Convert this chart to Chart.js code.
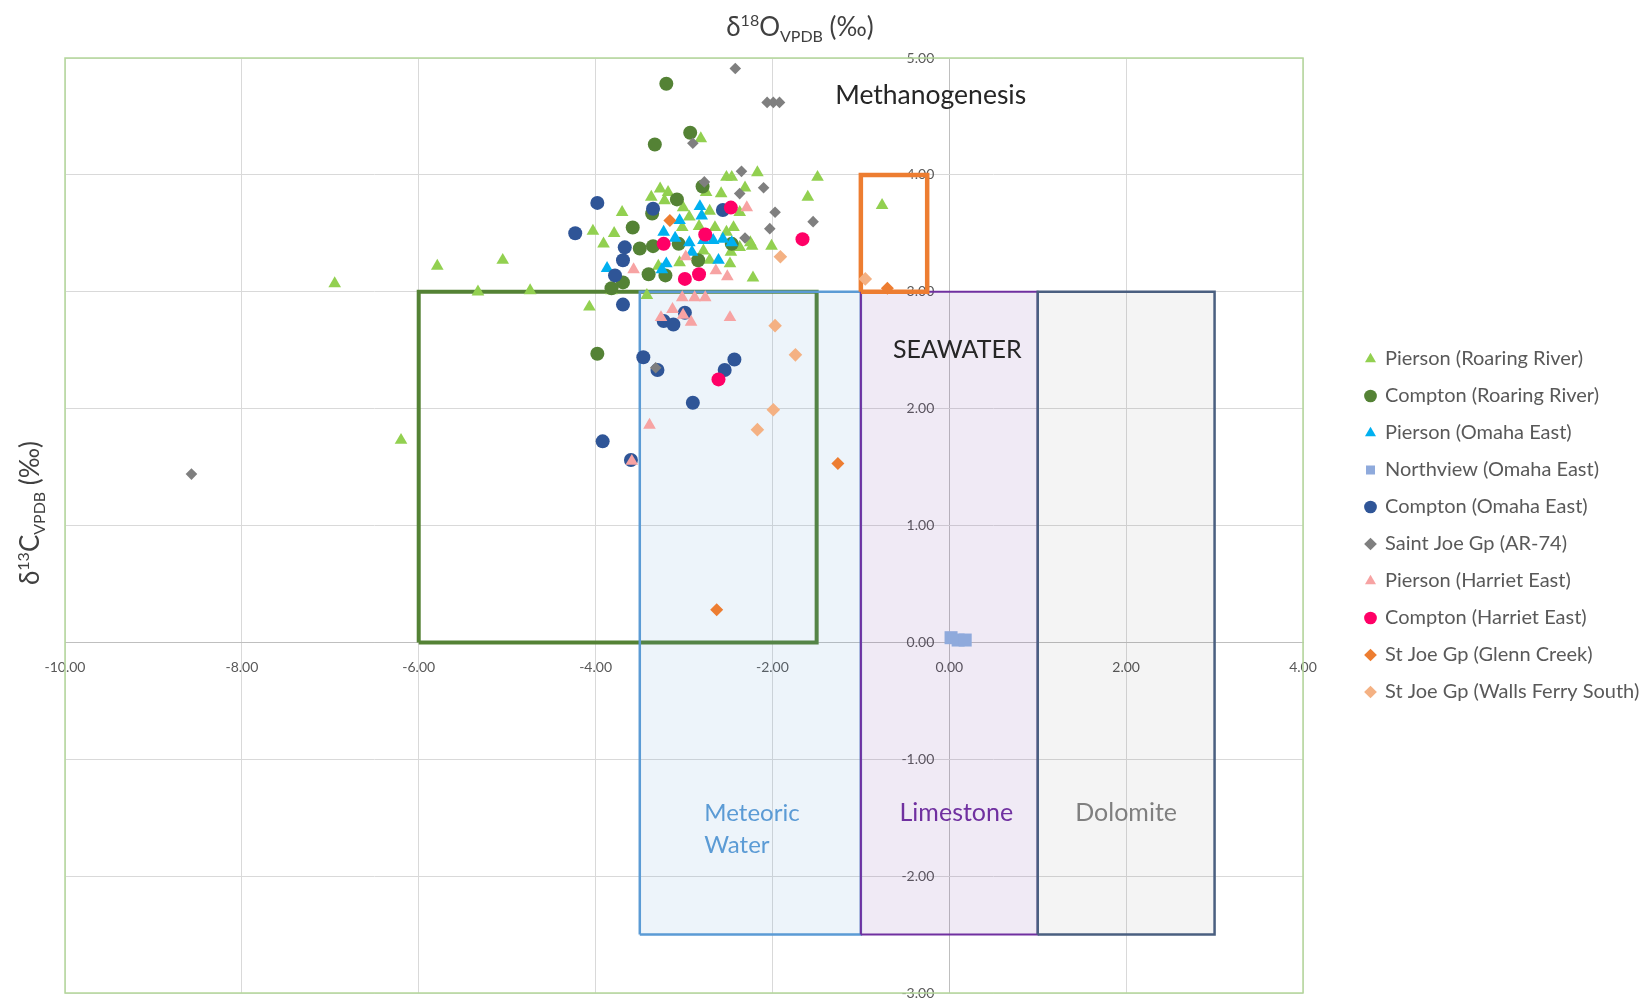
<!DOCTYPE html>
<html>
<head>
<meta charset="utf-8">
<title>Stable isotope cross-plot</title>
<script src="https://cdn.jsdelivr.net/npm/chart.js@4.4.1/dist/chart.umd.min.js"></script>
<style>
  html, body { margin: 0; padding: 0; background: #ffffff; }
  #wrap { width: 1641px; height: 1000px; }
</style>
</head>
<body>
<div id="wrap"><canvas id="chart" width="1641" height="1000"></canvas></div>
<script>
// ---- Sample data: [δ18O VPDB, δ13C VPDB] in ‰ ----
const piersonRoaringRiver = [
  [-2.81, 4.31], [-2.52, 3.98], [-2.46, 3.98], [-2.17, 4.02], [-1.49, 3.98], [-1.60, 3.81],
  [-2.31, 3.89], [-2.58, 3.84], [-2.75, 3.85], [-3.37, 3.81], [-3.27, 3.88], [-3.18, 3.85],
  [-3.22, 3.78], [-3.70, 3.68], [-4.03, 3.52], [-3.79, 3.50], [-3.91, 3.41], [-3.01, 3.72],
  [-2.94, 3.64], [-2.71, 3.69], [-2.37, 3.68], [-3.02, 3.55], [-2.83, 3.56], [-2.65, 3.55],
  [-2.44, 3.55], [-2.52, 3.51], [-2.25, 3.42], [-2.01, 3.39], [-2.78, 3.35], [-2.47, 3.34],
  [-2.37, 3.38], [-2.23, 3.39], [-2.48, 3.24], [-2.71, 3.27], [-3.05, 3.25], [-3.29, 3.22],
  [-2.22, 3.12], [-3.42, 2.97], [-4.07, 2.87], [-3.82, 3.01], [-0.76, 3.74], [-6.95, 3.07],
  [-5.79, 3.22], [-5.05, 3.27], [-5.33, 3.00], [-4.74, 3.01], [-6.20, 1.73]
];
const comptonRoaringRiver = [
  [-3.20, 4.78], [-2.93, 4.36], [-3.33, 4.26], [-2.79, 3.90], [-3.08, 3.79], [-3.36, 3.67],
  [-3.58, 3.55], [-3.50, 3.37], [-3.35, 3.39], [-3.06, 3.41], [-2.84, 3.27], [-3.40, 3.15],
  [-3.21, 3.14], [-3.69, 3.08], [-3.82, 3.03], [-2.46, 3.41], [-3.98, 2.47]
];
const piersonOmahaEast = [
  [-2.82, 3.73], [-2.80, 3.65], [-3.05, 3.61], [-3.23, 3.51], [-3.10, 3.46], [-2.94, 3.42],
  [-2.78, 3.44], [-2.67, 3.44], [-2.56, 3.45], [-2.46, 3.42], [-2.91, 3.34], [-2.61, 3.27],
  [-3.20, 3.24], [-3.25, 3.19], [-3.87, 3.20]
];
const northviewOmahaEast = [
  [0.02, 0.04], [0.10, 0.02], [0.18, 0.02]
];
const comptonOmahaEast = [
  [-3.98, 3.76], [-4.23, 3.50], [-3.35, 3.71], [-2.56, 3.70], [-3.67, 3.38], [-3.69, 3.27],
  [-3.78, 3.14], [-3.69, 2.89], [-3.23, 2.75], [-3.12, 2.72], [-2.99, 2.82], [-3.46, 2.44],
  [-3.30, 2.33], [-2.54, 2.33], [-2.43, 2.42], [-2.90, 2.05], [-3.92, 1.72], [-3.60, 1.56]
];
const saintJoeAR74 = [
  [-2.42, 4.91], [-2.06, 4.62], [-1.99, 4.62], [-1.92, 4.62], [-2.90, 4.27], [-2.35, 4.03],
  [-2.77, 3.94], [-2.10, 3.89], [-2.37, 3.84], [-1.97, 3.68], [-2.03, 3.54], [-1.54, 3.60],
  [-2.31, 3.46], [-3.32, 2.35], [-8.57, 1.44]
];
const piersonHarrietEast = [
  [-2.29, 3.72], [-2.98, 3.30], [-3.57, 3.19], [-2.64, 3.18], [-2.51, 3.13], [-3.02, 2.95],
  [-2.88, 2.95], [-2.76, 2.95], [-3.13, 2.85], [-3.01, 2.80], [-3.26, 2.78], [-2.92, 2.74],
  [-2.48, 2.78], [-3.39, 1.86], [-3.59, 1.55]
];
const comptonHarrietEast = [
  [-2.47, 3.72], [-2.76, 3.49], [-3.23, 3.41], [-1.66, 3.45], [-2.83, 3.15], [-2.99, 3.11],
  [-2.61, 2.25]
];
const stJoeGlennCreek = [
  [-3.16, 3.61], [-1.26, 1.53], [-2.63, 0.28], [-0.70, 3.03]
];
const stJoeWallsFerrySouth = [
  [-1.91, 3.30], [-1.97, 2.71], [-1.74, 2.46], [-1.99, 1.99], [-2.17, 1.82], [-0.95, 3.11]
];

const seriesNames = [
  'Pierson (Roaring River)', 'Compton (Roaring River)', 'Pierson (Omaha East)',
  'Northview (Omaha East)', 'Compton (Omaha East)', 'Saint Joe Gp (AR-74)',
  'Pierson (Harriet East)', 'Compton (Harriet East)', 'St Joe Gp (Glenn Creek)',
  'St Joe Gp (Walls Ferry South)'
];
const seriesData = [
  piersonRoaringRiver, comptonRoaringRiver, piersonOmahaEast, northviewOmahaEast,
  comptonOmahaEast, saintJoeAR74, piersonHarrietEast, comptonHarrietEast,
  stJoeGlennCreek, stJoeWallsFerrySouth
];

// ---- Axis ticks ----
const xTicks = [-10, -8, -6, -4, -2, 0, 2, 4];
const yTicks = [-3, -2, -1, 0, 1, 2, 3, 4, 5];

// ---- Reference fields: [δ18O min, δ18O max, δ13C min, δ13C max] ----
const outlineField = [-6, -1.5, 0, 3];
const meteoricField = [-3.5, -1, -2.5, 3];
const limestoneField = [-1, 1, -2.5, 3];
const dolomiteField = [1, 3, -2.5, 3];
const methanogenesisField = [-1, -0.25, 3, 4];

// ---- Marker styles ----
const markerStyles = [
  { color: '#92d050', shape: 'triangle', r: 7.3 },
  { color: '#548235', shape: 'circle', r: 7 },
  { color: '#00b0f0', shape: 'triangle', r: 7.3 },
  { color: '#8faadc', shape: 'rect', r: 9.2 },
  { color: '#2f5597', shape: 'circle', r: 7 },
  { color: '#7f7f7f', shape: 'rectRot', r: 5.8 },
  { color: '#f7a3a3', shape: 'triangle', r: 7.3 },
  { color: '#ff0066', shape: 'circle', r: 7 },
  { color: '#ed7d31', shape: 'rectRot', r: 6.5 },
  { color: '#f4b183', shape: 'rectRot', r: 6.8 }
];

const toPoints = arr => arr.map(([x, y]) => ({ x, y }));
const rectPath = ([x0, x1, y0, y1]) => [
  { x: x0, y: y0 }, { x: x0, y: y1 }, { x: x1, y: y1 }, { x: x1, y: y0 }, { x: x0, y: y0 }
];

const pointDatasets = seriesNames.map((name, i) => ({
  type: 'scatter',
  label: name,
  data: toPoints(seriesData[i]),
  pointStyle: markerStyles[i].shape,
  pointRadius: markerStyles[i].r,
  pointHoverRadius: markerStyles[i].r,
  backgroundColor: markerStyles[i].color,
  borderColor: markerStyles[i].color,
  borderWidth: 0,
  order: 9 - i
}));

function fieldDataset(field, stroke, width, fillColor, order) {
  return {
    type: 'line',
    label: '',
    data: rectPath(field),
    borderColor: stroke,
    borderWidth: width,
    backgroundColor: fillColor || 'rgba(0,0,0,0)',
    fill: fillColor ? 'shape' : false,
    pointRadius: 0,
    pointHoverRadius: 0,
    tension: 0,
    borderJoinStyle: 'miter',
    order
  };
}

const fieldDatasets = [
  fieldDataset(outlineField, '#548235', 4, null, 25),
  fieldDataset(meteoricField, '#5b9bd5', 2.5, 'rgba(91,155,213,0.11)', 24),
  fieldDataset(limestoneField, '#7030a0', 2, 'rgba(112,48,160,0.10)', 23),
  fieldDataset(dolomiteField, '#4a5f80', 2.5, 'rgba(0,0,0,0.045)', 22),
  fieldDataset(methanogenesisField, '#ed7d31', 4.5, null, 21)
];

// ---- Layout: legend sits to the right of the plot ----
const FONT = 'Lato, "Open Sans", "Noto Sans", sans-serif';
const legendFontSize = 20, legendPad = 17, legendBox = 9;
const plotLeft = 65, plotTop = 58, plotBottom = 993, plotRight = 1303, legendGap = 46;
const yLabelAnchor = -0.17;   // y tick labels end just left of the δ18O = 0 line
const meas = document.createElement('canvas').getContext('2d');
meas.font = legendFontSize + 'px ' + FONT;
const widestLabel = Math.max(...seriesNames.map(n => meas.measureText(n).width));
const legendWidth = legendPad + legendBox + legendFontSize / 2 + widestLabel + 10;
const padRight = 1641 - plotRight - legendGap - legendWidth;

// Plot frame
const framePlugin = {
  id: 'plotFrame',
  beforeDatasetsDraw(chart) {
    const { ctx, chartArea: a } = chart;
    ctx.save();
    ctx.strokeStyle = '#b4d79a';
    ctx.lineWidth = 1.5;
    ctx.strokeRect(a.left, a.top, a.right - a.left, a.bottom - a.top);
    ctx.restore();
  }
};

// Text with super/subscripts
function drawRich(ctx, parts, cx, baseline) {
  let w = 0;
  parts.forEach(p => { ctx.font = p[1] + 'px ' + FONT; w += ctx.measureText(p[0]).width; });
  let x = cx - w / 2;
  parts.forEach(p => {
    ctx.font = p[1] + 'px ' + FONT;
    ctx.fillText(p[0], x, baseline + p[2]);
    x += ctx.measureText(p[0]).width;
  });
}

const labelsPlugin = {
  id: 'fieldLabels',
  afterDatasetsDraw(chart) {
    const { ctx, scales: { x, y } } = chart;
    ctx.save();
    ctx.textBaseline = 'middle';
    const put = (text, vx, vy, size, color, align) => {
      ctx.font = size + 'px ' + FONT;
      ctx.fillStyle = color;
      ctx.textAlign = align || 'center';
      ctx.fillText(text, x.getPixelForValue(vx), y.getPixelForValue(vy));
    };
    put('Methanogenesis', -0.21, 4.68, 26.5, '#262626');
    put('SEAWATER', 0.09, 2.5, 25, '#262626');
    put('Meteoric', -2.77, -1.46, 24, '#5b9bd5', 'left');
    put('Water', -2.77, -1.74, 24, '#5b9bd5', 'left');
    put('Limestone', 0.08, -1.46, 25, '#7030a0');
    put('Dolomite', 2.0, -1.46, 25, '#7f7f7f');
    ctx.restore();
  },
  afterDraw(chart) {
    const { ctx } = chart;
    ctx.save();
    ctx.fillStyle = '#404040';
    ctx.textAlign = 'left';
    ctx.textBaseline = 'alphabetic';
    drawRich(ctx, [['δ', 26, 0], ['18', 16, -10], ['O', 26, 0], ['VPDB', 16, 6], [' (‰)', 26, 0]], 800, 36);
    ctx.translate(39, 513);
    ctx.rotate(-Math.PI / 2);
    drawRich(ctx, [['δ', 26, 0], ['13', 16, -10], ['C', 26, 0], ['VPDB', 16, 6], [' (‰)', 26, 0]], 0, 0);
    ctx.restore();
  }
};

const tickFont = { family: FONT, size: 14 };
const gridColor = c => (c.tick && c.tick.value === 0 ? '#bfbfbf' : '#d9d9d9');

new Chart(document.getElementById('chart'), {
  type: 'scatter',
  data: { datasets: pointDatasets.concat(fieldDatasets) },
  options: {
    responsive: false,
    devicePixelRatio: 1,
    animation: false,
    events: [],
    layout: {
      autoPadding: false,
      padding: { left: plotLeft, top: plotTop, bottom: 1000 - plotBottom, right: padRight }
    },
    scales: {
      x: {
        type: 'linear',
        min: -10, max: 4,
        position: { y: 0 },
        afterBuildTicks: s => { s.ticks = xTicks.map(v => ({ value: v })); },
        afterFit: s => { s.height = 0; s.paddingLeft = 0; s.paddingRight = 0; },
        grid: { color: gridColor, lineWidth: 1, drawTicks: false },
        border: { color: '#bfbfbf', width: 1 },
        ticks: { padding: 17, color: '#595959', font: tickFont, maxRotation: 0, autoSkip: false,
                 callback: v => Number(v).toFixed(2) }
      },
      y: {
        type: 'linear',
        min: -3, max: 5,
        position: { x: yLabelAnchor },
        afterBuildTicks: s => { s.ticks = yTicks.map(v => ({ value: v })); },
        afterFit: s => { s.width = 0; s.paddingTop = 0; s.paddingBottom = 0; },
        grid: { color: gridColor, lineWidth: 1, drawTicks: false },
        border: { display: false },
        ticks: { padding: 0, color: '#595959', font: tickFont, autoSkip: false,
                 callback: v => Number(v).toFixed(2) }
      },
      spacer: {
        type: 'linear',
        position: 'right',
        display: true,
        grid: { display: false },
        border: { display: false },
        ticks: { display: false },
        afterFit: s => { s.width = legendGap; s.paddingTop = 0; s.paddingBottom = 0; }
      }
    },
    plugins: {
      tooltip: { enabled: false },
      legend: {
        position: 'right',
        align: 'center',
        maxWidth: 420,
        labels: {
          usePointStyle: true,
          boxWidth: legendBox,
          boxHeight: legendBox,
          padding: legendPad,
          color: '#595959',
          font: { family: FONT, size: legendFontSize },
          filter: item => item.datasetIndex < seriesNames.length,
          sort: (a, b) => a.datasetIndex - b.datasetIndex
        }
      }
    }
  },
  plugins: [framePlugin, labelsPlugin]
});
</script>
</body>
</html>
